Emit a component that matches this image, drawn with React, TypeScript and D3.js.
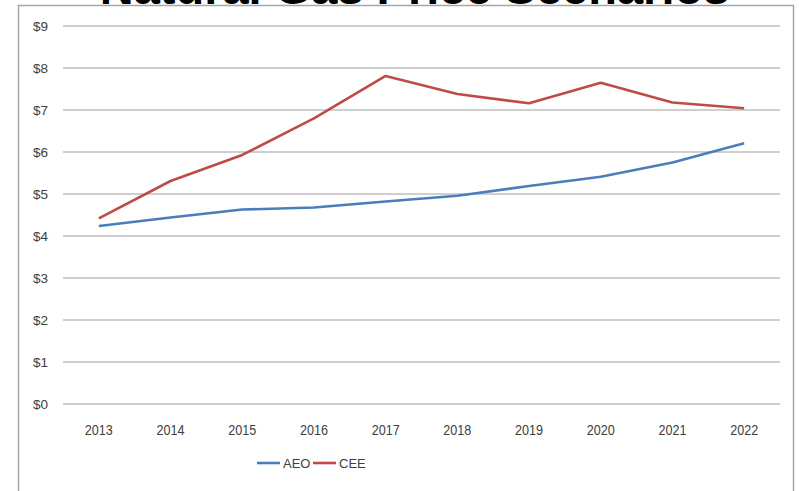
import React from "react";
import * as d3 from "d3";

const years = ["2013", "2014", "2015", "2016", "2017", "2018", "2019", "2020", "2021", "2022"];
const aeo = [4.24, 4.44, 4.63, 4.68, 4.82, 4.96, 5.19, 5.41, 5.75, 6.21];
const cee = [4.42, 5.31, 5.93, 6.8, 7.81, 7.38, 7.16, 7.65, 7.18, 7.04];
const yTicks = [0, 1, 2, 3, 4, 5, 6, 7, 8, 9];
const seriesNames = ["AEO", "CEE"];
const title = "Natural Gas Price Scenarios";

const W = 799;
const H = 491;
const colors = ["#4a7ebb", "#be4b48"];
const font = "'Liberation Sans', Arial, sans-serif";

export default function App() {
  const x = d3.scaleBand<string>().domain(years).range([63, 780]);
  const y = d3.scaleLinear().domain([0, 9]).range([404, 26]);
  const line = d3
    .line<number>()
    .x((_, i) => (x(years[i]) as number) + x.bandwidth() / 2)
    .y((d) => y(d));
  const series = [aeo, cee];

  return (
    <svg
      width={W}
      height={H}
      style={{ position: "absolute", left: 0, top: 0, background: "#fff" }}
    >
      <rect x={0} y={0} width={W} height={H} fill="#fff" />
      <rect x={18.5} y={5.5} width={775} height={500} fill="#fff" stroke="#a6a6a6" strokeWidth={1.5} />
      <text
        x={414.5}
        y={4}
        textAnchor="middle"
        fontFamily={font}
        fontWeight="bold"
        fontSize={47}
        fill="#000"
      >
        {title}
      </text>
      {yTicks.map((t) => (
        <g key={t}>
          <line x1={63} x2={780} y1={y(t)} y2={y(t)} stroke="#bfbfbf" strokeWidth={1.3} />
          <text
            x={48}
            y={y(t)}
            dy="0.35em"
            textAnchor="end"
            fontFamily={font}
            fontSize={13.5}
            fill="#404040"
          >
            {"$" + t}
          </text>
        </g>
      ))}
      {years.map((yr) => (
        <text
          key={yr}
          x={(x(yr) as number) + x.bandwidth() / 2}
          y={430}
          dy="0.35em"
          textAnchor="middle"
          fontFamily={font}
          fontSize={14.5}
          textLength={28}
          lengthAdjust="spacingAndGlyphs"
          fill="#404040"
        >
          {yr}
        </text>
      ))}
      {series.map((s, i) => (
        <path key={i} d={line(s) as string} fill="none" stroke={colors[i]} strokeWidth={2.6} strokeLinejoin="round" />
      ))}
      {seriesNames.map((n, i) => {
        const lx = 257 + i * 56;
        return (
          <g key={n}>
            <line x1={lx} x2={lx + 23} y1={463} y2={463} stroke={colors[i]} strokeWidth={2.6} />
            <text x={lx + 26} y={463} dy="0.35em" fontFamily={font} fontSize={13} fill="#404040">
              {n}
            </text>
          </g>
        );
      })}
    </svg>
  );
}
